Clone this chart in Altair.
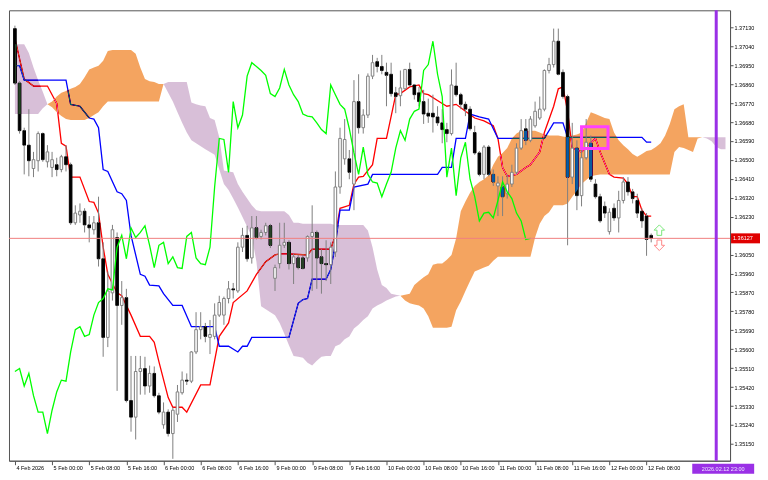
import json
import altair as alt
import pandas as pd

# ---------------- data (H1 bars, index 0 = 4 Feb 2026 16:00) ----------------
opens = [1.37124, 1.36865, 1.36639, 1.36570, 1.36459, 1.36496, 1.36625, 1.36491, 1.36464, 1.36477,
         1.36454, 1.36515, 1.36477, 1.36201, 1.36238, 1.36256, 1.36191, 1.36168, 1.36201, 1.36030,
         1.35656, 1.35868, 1.36131, 1.35808, 1.35845, 1.35356, 1.35277, 1.35494, 1.35508, 1.35425,
         1.35485, 1.35379, 1.35241, 1.35301, 1.35199, 1.35291, 1.35393, 1.35453, 1.35448, 1.35587,
         1.35693, 1.35707, 1.35656, 1.35661, 1.35762, 1.35762, 1.35841, 1.35887, 1.35877, 1.36085,
         1.36141, 1.36034, 1.36177, 1.36136, 1.36155, 1.36187, 1.35937, 1.36007, 1.36094, 1.36108,
         1.36007, 1.36034, 1.36034, 1.36034, 1.36136, 1.36155, 1.36039, 1.36007, 1.36002, 1.36062,
         1.36371, 1.36505, 1.36505, 1.36385, 1.36777, 1.36653, 1.36713, 1.36898, 1.36967, 1.36944,
         1.36916, 1.36907, 1.36819, 1.36805, 1.36838, 1.36930, 1.36856, 1.36819, 1.36777, 1.36722,
         1.36722, 1.36704, 1.36676, 1.36644, 1.36625, 1.36851, 1.36810, 1.36764, 1.36741, 1.36630,
         1.36533, 1.36431, 1.36561, 1.36431, 1.36376, 1.36371, 1.36339, 1.36385, 1.36441, 1.36556,
         1.36648, 1.36593, 1.36662, 1.36699, 1.36741, 1.36925, 1.36953, 1.37064, 1.36916, 1.36801,
         1.36418, 1.36556, 1.36330, 1.36510, 1.36579, 1.36385, 1.36325, 1.36279, 1.36159, 1.36270,
         1.36224, 1.36307, 1.36395, 1.36348, 1.36307, 1.36256, 1.36233, 1.36141]
highs = [1.37138, 1.36874, 1.36653, 1.36741, 1.36538, 1.36635, 1.36630, 1.36570, 1.36538, 1.36510,
         1.36524, 1.36570, 1.36487, 1.36284, 1.36293, 1.36270, 1.36233, 1.36233, 1.36325, 1.36108,
         1.35970, 1.36191, 1.36155, 1.35924, 1.35887, 1.35568, 1.35568, 1.35568, 1.35564, 1.35522,
         1.35518, 1.35393, 1.35347, 1.35314, 1.35324, 1.35430, 1.35494, 1.35485, 1.35591, 1.35776,
         1.35776, 1.35725, 1.35739, 1.35818, 1.35854, 1.35850, 1.35924, 1.35915, 1.36108, 1.36177,
         1.36187, 1.36233, 1.36233, 1.36168, 1.36201, 1.36196, 1.36002, 1.36201, 1.36201, 1.36118,
         1.36053, 1.36048, 1.36048, 1.36141, 1.36284, 1.36164, 1.36076, 1.36118, 1.36108, 1.36445,
         1.36653, 1.36694, 1.36547, 1.36879, 1.36907, 1.36741, 1.36911, 1.36999, 1.36985, 1.36999,
         1.36962, 1.36962, 1.36847, 1.36925, 1.36930, 1.36962, 1.36861, 1.36847, 1.36833, 1.36791,
         1.36810, 1.36755, 1.36741, 1.36676, 1.36930, 1.36962, 1.36819, 1.36777, 1.36755, 1.36662,
         1.36542, 1.36570, 1.36570, 1.36454, 1.36422, 1.36422, 1.36431, 1.36477, 1.36579, 1.36694,
         1.36694, 1.36708, 1.36777, 1.36801, 1.36930, 1.36985, 1.37124, 1.37124, 1.36930, 1.36810,
         1.36676, 1.36593, 1.36602, 1.36694, 1.36616, 1.36408, 1.36339, 1.36302, 1.36270, 1.36293,
         1.36353, 1.36418, 1.36418, 1.36362, 1.36339, 1.36270, 1.36247, 1.36150]
lows = [1.36856, 1.36625, 1.36431, 1.36422, 1.36418, 1.36445, 1.36491, 1.36464, 1.36418, 1.36422,
        1.36441, 1.36445, 1.36191, 1.36191, 1.36201, 1.36155, 1.36108, 1.36145, 1.35993, 1.35564,
        1.35610, 1.35831, 1.35402, 1.35716, 1.35347, 1.35208, 1.35171, 1.35384, 1.35384, 1.35393,
        1.35370, 1.35291, 1.35222, 1.35185, 1.35079, 1.35254, 1.35384, 1.35430, 1.35439, 1.35577,
        1.35647, 1.35633, 1.35577, 1.35647, 1.35753, 1.35716, 1.35818, 1.35841, 1.35868, 1.36062,
        1.36016, 1.36007, 1.36122, 1.36122, 1.36141, 1.36081, 1.35877, 1.35984, 1.36081, 1.35979,
        1.35910, 1.35979, 1.35979, 1.36016, 1.35877, 1.35887, 1.35864, 1.35924, 1.35910, 1.36039,
        1.36339, 1.36477, 1.36408, 1.36261, 1.36625, 1.36625, 1.36699, 1.36884, 1.36916, 1.36907,
        1.36755, 1.36801, 1.36722, 1.36755, 1.36833, 1.36847, 1.36787, 1.36755, 1.36671, 1.36676,
        1.36630, 1.36662, 1.36579, 1.36584, 1.36616, 1.36801, 1.36741, 1.36708, 1.36639, 1.36524,
        1.36422, 1.36408, 1.36422, 1.36376, 1.36233, 1.36233, 1.36316, 1.36371, 1.36431, 1.36547,
        1.36570, 1.36584, 1.36653, 1.36690, 1.36731, 1.36911, 1.36939, 1.36902, 1.36791, 1.36094,
        1.36385, 1.36261, 1.36279, 1.36501, 1.36395, 1.36316, 1.36201, 1.36224, 1.36145, 1.36210,
        1.36155, 1.36293, 1.36330, 1.36293, 1.36224, 1.36177, 1.36044, 1.36108]
closes = [1.36865, 1.36639, 1.36570, 1.36496, 1.36501, 1.36625, 1.36501, 1.36538, 1.36501, 1.36454,
          1.36515, 1.36477, 1.36201, 1.36247, 1.36256, 1.36191, 1.36177, 1.36201, 1.36030, 1.35656,
          1.35877, 1.36168, 1.35808, 1.35845, 1.35356, 1.35277, 1.35494, 1.35508, 1.35425, 1.35485,
          1.35379, 1.35301, 1.35301, 1.35199, 1.35310, 1.35397, 1.35453, 1.35448, 1.35587, 1.35693,
          1.35707, 1.35661, 1.35670, 1.35762, 1.35822, 1.35841, 1.35887, 1.35882, 1.36085, 1.36141,
          1.36030, 1.36177, 1.36131, 1.36155, 1.36187, 1.36094, 1.35988, 1.36094, 1.36108, 1.36007,
          1.36039, 1.35988, 1.35984, 1.36136, 1.36155, 1.36034, 1.36007, 1.36002, 1.36085, 1.36371,
          1.36602, 1.36597, 1.36441, 1.36777, 1.36653, 1.36713, 1.36898, 1.36962, 1.36944, 1.36925,
          1.36902, 1.36815, 1.36801, 1.36842, 1.36930, 1.36856, 1.36810, 1.36777, 1.36718, 1.36708,
          1.36704, 1.36676, 1.36644, 1.36625, 1.36856, 1.36810, 1.36764, 1.36741, 1.36648, 1.36533,
          1.36431, 1.36561, 1.36431, 1.36395, 1.36390, 1.36325, 1.36385, 1.36441, 1.36556, 1.36639,
          1.36593, 1.36694, 1.36731, 1.36741, 1.36925, 1.36953, 1.37064, 1.36907, 1.36801, 1.36418,
          1.36556, 1.36330, 1.36510, 1.36584, 1.36408, 1.36325, 1.36210, 1.36247, 1.36251, 1.36224,
          1.36307, 1.36395, 1.36348, 1.36316, 1.36247, 1.36210, 1.36122, 1.36127]

# Tenkan-sen (red) vertices
tenkan_i = [0, 2, 4, 7, 9, 10, 11, 12, 14, 16, 17, 18, 19, 20, 22, 23, 25, 27, 29, 30, 31, 33, 34, 36, 37,
            40, 42, 44, 46, 47, 50, 52, 54, 56, 57, 59, 63, 64, 68, 69, 70, 72, 73, 74, 75, 77, 78, 80,
            82, 83, 85, 87, 88, 89, 92, 93, 95, 97, 99, 101, 103, 104, 105, 106, 108, 110, 111, 113,
            114, 116, 117, 118, 119, 120, 122, 123, 125, 126, 128, 129, 131, 132, 133, 134, 135, 136, 137]
tenkan_v = [1.37078, 1.36884, 1.36851, 1.36851, 1.36768, 1.36579, 1.36565, 1.36418, 1.36418, 1.36302,
            1.36298, 1.36247, 1.36085, 1.35956, 1.35868, 1.35854, 1.35762, 1.35661, 1.35661, 1.35633,
            1.35541, 1.35370, 1.35324, 1.35324, 1.35301, 1.35430, 1.35430, 1.35661, 1.35725, 1.35822,
            1.35877, 1.35956, 1.36016, 1.36048, 1.36053, 1.36053, 1.36048, 1.36076, 1.36076, 1.36141,
            1.36270, 1.36284, 1.36385, 1.36418, 1.36422, 1.36477, 1.36602, 1.36602, 1.36810, 1.36815,
            1.36847, 1.36856, 1.36815, 1.36810, 1.36768, 1.36755, 1.36764, 1.36731, 1.36699, 1.36685,
            1.36662, 1.36602, 1.36464, 1.36422, 1.36431, 1.36464, 1.36477, 1.36538, 1.36630, 1.36755,
            1.36838, 1.36847, 1.36731, 1.36556, 1.36538, 1.36561, 1.36602, 1.36538, 1.36431, 1.36418,
            1.36413, 1.36385, 1.36325, 1.36325, 1.36261, 1.36233, 1.36233]

# Kijun-sen (blue) vertices
kijun_i = [0, 1, 2, 11, 12, 14, 16, 17, 18, 19, 20, 22, 23, 24, 25, 27, 28, 29, 31, 32, 34, 36, 38, 43,
           44, 46, 48, 49, 50, 51, 59, 61, 62, 63, 64, 67, 68, 69, 70, 72, 73, 76, 77, 91, 92, 94, 95,
           97, 98, 100, 102, 103, 104, 114, 116, 118, 119, 135, 136, 137]
kijun_v = [1.36948, 1.36948, 1.36879, 1.36879, 1.36764, 1.36755, 1.36699, 1.36694, 1.36653, 1.36454,
           1.36445, 1.36348, 1.36339, 1.36307, 1.36141, 1.35956, 1.35947, 1.35905, 1.35901, 1.35864,
           1.35808, 1.35808, 1.35707, 1.35707, 1.35614, 1.35614, 1.35587, 1.35614, 1.35614, 1.35656,
           1.35656, 1.35818, 1.35836, 1.35841, 1.35933, 1.35933, 1.35979, 1.36099, 1.36261, 1.36261,
           1.36371, 1.36385, 1.36431, 1.36431, 1.36464, 1.36464, 1.36602, 1.36602, 1.36718, 1.36704,
           1.36694, 1.36648, 1.36602, 1.36602, 1.36676, 1.36676, 1.36607, 1.36607, 1.36584, 1.36584]

# Senkou span A / B (index 0..153, already shifted forward)
span_a = ([1.36718] * 6 + [1.36745, 1.36764, 1.36777, 1.36801, 1.36819, 1.36828, 1.36838, 1.36847,
          1.36861, 1.36893, 1.36930, 1.36939, 1.36948, 1.36971, 1.37018] + [1.37022] * 5 +
          [1.37004, 1.36939, 1.36884, 1.36874, 1.36870, 1.36861, 1.36861, 1.36819, 1.36777, 1.36727,
           1.36676, 1.36630, 1.36593, 1.36579, 1.36565, 1.36551, 1.36538, 1.36524, 1.36454, 1.36385,
           1.36357, 1.36316, 1.36274, 1.36228, 1.36182, 1.36136, 1.36016, 1.35804, 1.35790, 1.35776,
           1.35762, 1.35725, 1.35674, 1.35619, 1.35568, 1.35564, 1.35559, 1.35536, 1.35522, 1.35545,
           1.35564, 1.35568, 1.35568, 1.35614, 1.35624, 1.35647, 1.35661, 1.35698, 1.35716, 1.35739,
           1.35757, 1.35794, 1.35808, 1.35818, 1.35831, 1.35841, 1.35850, 1.35854, 1.35859, 1.35864,
           1.35905, 1.35924, 1.35942, 1.35956, 1.36002, 1.36007, 1.36007, 1.36025, 1.36048, 1.36127,
           1.36256, 1.36302, 1.36344, 1.36376, 1.36395, 1.36408, 1.36427, 1.36477, 1.36515, 1.36533,
           1.36556, 1.36602, 1.36625] + [1.36639] * 4 +
          [1.36630, 1.36621] + [1.36616] * 3 +
          [1.36611, 1.36607, 1.36616, 1.36621, 1.36630, 1.36676, 1.36727, 1.36718, 1.36708, 1.36699,
           1.36694, 1.36630, 1.36593, 1.36570, 1.36551, 1.36528, 1.36515, 1.36528, 1.36542, 1.36547,
           1.36561, 1.36579, 1.36616, 1.36671, 1.36741, 1.36755, 1.36764] + [1.36607] * 4 +
          [1.36602, 1.36588, 1.36561, 1.36551, 1.36551])
span_b = ([1.37050] * 3 + [1.37008, 1.36939, 1.36879, 1.36824, 1.36764, 1.36750, 1.36727, 1.36708,
          1.36694] + [1.36690] * 4 + [1.36699, 1.36713, 1.36727, 1.36755] + [1.36777] * 12 +
          [1.36861] + [1.36870] * 5 +
          [1.36773, 1.36764, 1.36759, 1.36755, 1.36699, 1.36690, 1.36607, 1.36450, 1.36445, 1.36441,
           1.36385, 1.36348, 1.36316, 1.36284, 1.36261] + [1.36256] * 6 + [1.36238] +
          [1.36201] * 2 + [1.36196] * 7 + [1.36191] * 7 +
          [1.36164, 1.36085, 1.35979, 1.35905, 1.35891, 1.35864, 1.35859, 1.35854, 1.35831, 1.35818,
           1.35813, 1.35808, 1.35794, 1.35757] + [1.35702] * 4 +
          [1.35707, 1.35785, 1.35827, 1.35877, 1.35924, 1.35970, 1.35979, 1.35988, 1.35997, 1.36021] +
          [1.36039] * 8 +
          [1.36131, 1.36196, 1.36233, 1.36251] + [1.36284] * 3 +
          [1.36293, 1.36325, 1.36353, 1.36385, 1.36404, 1.36422, 1.36427] + [1.36431] * 16 +
          [1.36538, 1.36561, 1.36556, 1.36547, 1.36538, 1.36602, 1.36607] + [1.36607] * 5)

x_tick_pos = [0, 8, 16, 24, 32, 40, 48, 56, 64, 72, 80, 88, 96, 104, 112, 120, 128, 136]
x_tick_labels = ["4 Feb 2026", "5 Feb 00:00", "5 Feb 08:00", "5 Feb 16:00", "6 Feb 00:00",
                 "6 Feb 08:00", "6 Feb 16:00", "9 Feb 00:00", "9 Feb 08:00", "9 Feb 16:00",
                 "10 Feb 00:00", "10 Feb 08:00", "10 Feb 16:00", "11 Feb 00:00", "11 Feb 08:00",
                 "11 Feb 16:00", "12 Feb 00:00", "12 Feb 08:00"]
y_ticks = [1.37130, 1.37040, 1.36950, 1.36860, 1.36770, 1.36680, 1.36590, 1.36500, 1.36410,
           1.36320, 1.36230, 1.36140, 1.36050, 1.35960, 1.35870, 1.35780, 1.35690, 1.35600,
           1.35510, 1.35420, 1.35330, 1.35240, 1.35150]

last_price = 1.36127
future_i = 151
future_label = "2026.02.12 23:00"
box_i = [122.0, 127.7]
box_p = [1.36554, 1.36658]
signal_up = [138.75, 1.36166]
signal_down = [138.75, 1.36094]

# ---------------- chart ----------------
W, H = 722, 451
FONT = "Liberation Sans"
xs = alt.Scale(domain=[-0.2, 152.9], nice=False, zero=False)
ys = alt.Scale(domain=[1.35070, 1.37211], nice=False, zero=False)

xaxis = alt.Axis(values=x_tick_pos, title=None, grid=False,
                 labelExpr=json.dumps(x_tick_labels) + "[indexof(" + json.dumps(x_tick_pos) + ", datum.value)]",
                 labelAlign="left", labelBaseline="top", labelOffset=1, labelPadding=1,
                 tickSize=4, labelFontSize=5.5, labelFont=FONT, labelColor="black",
                 domainColor="#555555", tickColor="#555555", labelOverlap=False, labelFlush=False)
yaxis = alt.Axis(orient="right", values=y_ticks, format=".5f", title=None, grid=False,
                 tickSize=3, labelPadding=1, labelFontSize=5.5, labelFont=FONT, labelColor="black",
                 domainColor="#555555", tickColor="#555555", labelOverlap=False, labelFlush=False)


def X(f):
    return alt.X(f, scale=xs, axis=xaxis)


def Y(f):
    return alt.Y(f, scale=ys, axis=yaxis)


candles = pd.DataFrame({"i": list(range(len(closes))), "o": opens, "h": highs, "l": lows, "c": closes})
tenkan_df = pd.DataFrame({"i": tenkan_i, "v": tenkan_v})
kijun_df = pd.DataFrame({"i": kijun_i, "v": kijun_v})
chikou_df = pd.DataFrame({"i": list(range(len(closes) - 26)), "v": closes[26:]})

# cloud split in segments of one colour (drawn with inverted colours + difference blend, like MT4's XOR cloud)
inv = {1: "#0B5B9F", -1: "#274027"}
rows, seg, prev, pending = [], 0, None, None
for k, (a, b) in enumerate(zip(span_a, span_b)):
    s = (a > b) - (a < b)
    if s == 0:
        if prev is not None:
            rows.append({"i": k, "a": a, "b": b, "seg": seg, "col": inv[prev]})
        pending = (k, a, b)
        continue
    if s != prev:
        seg += 1
        if pending is not None:
            rows.append({"i": pending[0], "a": pending[1], "b": pending[2], "seg": seg, "col": inv[s]})
        prev = s
    pending = None
    rows.append({"i": k, "a": a, "b": b, "seg": seg, "col": inv[s]})
cloud_df = pd.DataFrame(rows)

tenkan = alt.Chart(tenkan_df).mark_line(color="#FF0000", strokeWidth=1.3).encode(x=X("i:Q"), y=Y("v:Q"))
kijun = alt.Chart(kijun_df).mark_line(color="#0000FF", strokeWidth=1.3).encode(x=X("i:Q"), y=Y("v:Q"))
bear = alt.Chart(candles).transform_filter("datum.c < datum.o").mark_bar(
    size=2.6, fill="black", stroke="black", strokeWidth=1).encode(x=X("i:Q"), y=Y("o:Q"), y2="c:Q")

cloud = alt.Chart(cloud_df).mark_area(blend="difference", interpolate="linear").encode(
    x=X("i:Q"), y=Y("a:Q"), y2="b:Q", detail="seg:N", color=alt.Color("col:N", scale=None))

wick_base = alt.Chart(candles).transform_calculate(
    top="max(datum.o, datum.c)", bot="min(datum.o, datum.c)")
wick_up = wick_base.mark_rule(color="#808080", strokeWidth=1).encode(x=X("i:Q"), y=Y("h:Q"), y2="top:Q")
wick_dn = wick_base.mark_rule(color="#808080", strokeWidth=1).encode(x=X("i:Q"), y=Y("bot:Q"), y2="l:Q")
bull = alt.Chart(candles).transform_filter("datum.c >= datum.o").mark_bar(
    size=2.6, fill="white", stroke="#808080", strokeWidth=1).encode(x=X("i:Q"), y=Y("o:Q"), y2="c:Q")
chikou = alt.Chart(chikou_df).mark_line(color="#00FF00", strokeWidth=1.3).encode(x=X("i:Q"), y=Y("v:Q"))

price_df = pd.DataFrame({"p": [last_price], "lab": [f"{last_price:.5f}"]})
price_line = alt.Chart(price_df).mark_rule(color="#F08080", strokeWidth=1).encode(y=Y("p:Q"))
price_box = alt.Chart(price_df).mark_rect(color="#E00000", yOffset=-5, y2Offset=5).encode(
    x=alt.value(W + 1), x2=alt.value(W + 30), y=Y("p:Q"), y2="p:Q")
price_txt = alt.Chart(price_df).mark_text(align="left", baseline="middle", fontSize=5.5, font=FONT,
                                          color="white").encode(x=alt.value(W + 3), y=Y("p:Q"), text="lab:N")

fut_df = pd.DataFrame({"i": [future_i], "lab": [future_label]})
fut_line = alt.Chart(fut_df).mark_rule(color="#9A30E6", strokeWidth=3).encode(x=X("i:Q"))
fut_box = alt.Chart(fut_df).mark_rect(color="#9A30E6", xOffset=-24, x2Offset=38).encode(
    x=X("i:Q"), x2="i:Q", y=alt.value(H + 3), y2=alt.value(H + 13))
fut_txt = alt.Chart(fut_df).mark_text(align="center", baseline="middle", dx=7, fontSize=5.5, font=FONT,
                                      color="#EDE6FF").encode(x=X("i:Q"), y=alt.value(H + 8), text="lab:N")

box_df = pd.DataFrame({"i0": [box_i[0]], "i1": [box_i[1]], "p0": [box_p[0]], "p1": [box_p[1]]})
pink_box = alt.Chart(box_df).mark_rect(fillOpacity=0, stroke="#FF40FF", strokeWidth=3).encode(
    x=X("i0:Q"), x2="i1:Q", y=Y("p0:Q"), y2="p1:Q")

up_path = "M -0.45 1 L -0.45 0 L -1 0 L 0 -1 L 1 0 L 0.45 0 L 0.45 1 Z"
dn_path = "M -0.45 -1 L -0.45 0 L -1 0 L 0 1 L 1 0 L 0.45 0 L 0.45 -1 Z"
up_df = pd.DataFrame({"i": [signal_up[0]], "p": [signal_up[1]]})
dn_df = pd.DataFrame({"i": [signal_down[0]], "p": [signal_down[1]]})
arrow_up = alt.Chart(up_df).mark_point(shape=up_path, size=110, filled=False, color="#44DD44",
                                       strokeWidth=1).encode(x=X("i:Q"), y=Y("p:Q"))
arrow_dn = alt.Chart(dn_df).mark_point(shape=dn_path, size=110, filled=False, color="#FF5555",
                                       strokeWidth=1).encode(x=X("i:Q"), y=Y("p:Q"))

chart = alt.layer(
    tenkan, kijun, bear, cloud, wick_up, wick_dn, bull, chikou,
    price_line, fut_line, pink_box, arrow_up, arrow_dn, price_box, price_txt, fut_box, fut_txt
).properties(width=W, height=H, padding=0, background="white").configure_view(
    stroke="#555555", strokeWidth=1)

chart.save("out.html", embed_options={"renderer": "svg", "actions": False})
